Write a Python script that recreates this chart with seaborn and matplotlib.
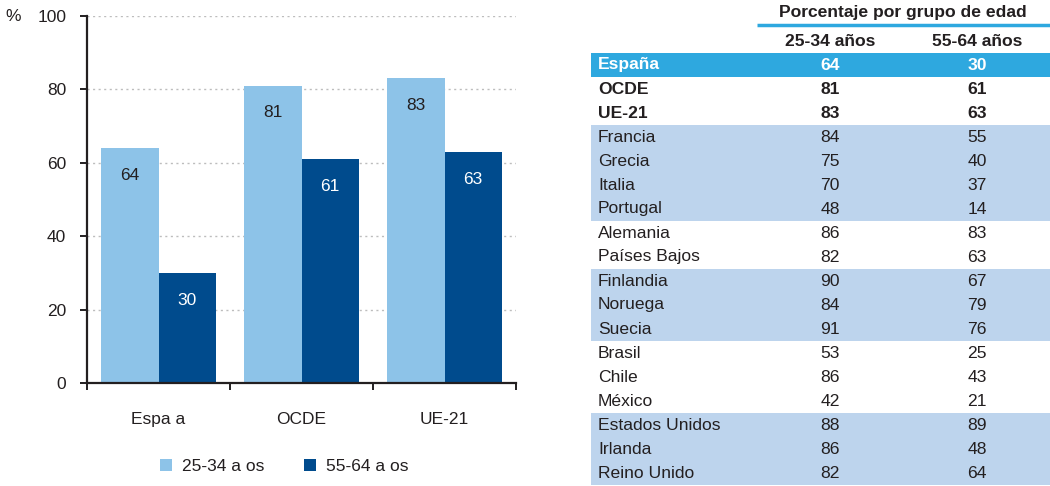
import pandas as pd
import matplotlib
matplotlib.use('Agg')
import matplotlib.pyplot as plt
import seaborn as sns
import numpy as np

# chart data
groups = ['Espa a', 'OCDE', 'UE-21']
ages = ['25-34 a os', '55-64 a os']
young = [64, 81, 83]
old = [30, 61, 63]

# table data
countries = ['España', 'OCDE', 'UE-21', 'Francia', 'Grecia', 'Italia', 'Portugal',
             'Alemania', 'Países Bajos', 'Finlandia', 'Noruega', 'Suecia',
             'Brasil', 'Chile', 'México', 'Estados Unidos', 'Irlanda', 'Reino Unido']
tab_young = [64, 81, 83, 84, 75, 70, 48, 86, 82, 90, 84, 91, 53, 86, 42, 88, 86, 82]
tab_old = [30, 61, 63, 55, 40, 37, 14, 83, 63, 67, 79, 76, 25, 43, 21, 89, 48, 64]
# row shading: 0 white, 1 light blue, 2 highlight
shade = [2, 0, 0, 1, 1, 1, 1, 0, 0, 1, 1, 1, 0, 0, 0, 1, 1, 1]
bold_rows = [0, 1, 2]

light = '#8DC3E8'
dark = '#004B8D'
txt = '#231F20'

sns.set_style('white')
plt.rcParams['font.family'] = ['Liberation Sans', 'DejaVu Sans']

df = pd.DataFrame({
    'grupo': groups * 2,
    'edad': [ages[0]] * 3 + [ages[1]] * 3,
    'valor': young + old,
})

fig = plt.figure(figsize=(10.5, 4.86), dpi=100)
ax = fig.add_axes([87/1050, 1 - 383/486, 429/1050, 367/486])
sns.barplot(data=df, x='grupo', y='valor', hue='edad', palette=[light, dark],
            width=0.8, saturation=1, linewidth=0, ax=ax)

fs_c = 12.5
ax.set_xlim(-0.5, 2.5)
ax.set_ylim(0, 100)
ax.set_yticks([0, 20, 40, 60, 80, 100])
ax.yaxis.grid(True, linestyle=(0, (1.5, 2.5)), color='#BDBDBD', linewidth=1)
ax.set_axisbelow(True)
for s in ['top', 'right']:
    ax.spines[s].set_visible(False)
for s in ['left', 'bottom']:
    ax.spines[s].set_color(txt)
    ax.spines[s].set_linewidth(1.6)
ax.tick_params(axis='y', length=5, width=1.4, color=txt, labelsize=fs_c,
               labelcolor=txt, pad=10, left=True)
ax.set_xticks([-0.5, 0.5, 1.5, 2.5], minor=True)
ax.tick_params(axis='x', which='minor', length=5, width=1.4, color=txt, bottom=True)
ax.tick_params(axis='x', which='major', length=0, labelsize=fs_c, labelcolor=txt, pad=21)
ax.set_xlabel('')
ax.set_ylabel('')
ax.text(-0.19, 1.0, '%', transform=ax.transAxes, fontsize=fs_c, color=txt,
        va='center', ha='left')

for cont, col in zip(ax.containers, [txt, 'white']):
    labels = [f'{v:.0f}' for v in cont.datavalues]
    ax.bar_label(cont, labels=labels, padding=-25, color=col, fontsize=fs_c)

sns.move_legend(ax, 'lower center', bbox_to_anchor=(0.46, -0.29), ncol=2,
                frameon=False, title=None, fontsize=fs_c, handlelength=0.65,
                handleheight=0.65, columnspacing=2.3, handletextpad=0.6)
for t in ax.get_legend().get_texts():
    t.set_color(txt)

# table
tx = fig.add_axes([591/1050, 0, 459/1050, 1])
tx.set_xlim(591, 1050)
tx.set_ylim(421/24, -65/24)
tx.axis('off')
narrow = ['Liberation Sans Narrow', 'Liberation Sans', 'DejaVu Sans']
fs = 12.6
band_cols = {0: None, 1: '#BDD4ED', 2: '#2EA8DF'}
for i, (name, a, b, s) in enumerate(zip(countries, tab_young, tab_old, shade)):
    if band_cols[s]:
        tx.axhspan(i - 0.5, i + 0.5, xmin=0, xmax=1, color=band_cols[s], lw=0)
    w = 'bold' if i in bold_rows else 'normal'
    c = 'white' if s == 2 else txt
    tx.text(598, i, name, ha='left', va='center', fontsize=fs, fontweight=w,
            color=c, family=narrow)
    tx.text(830, i, str(a), ha='center', va='center', fontsize=fs, fontweight=w,
            color=c, family=narrow)
    tx.text(977, i, str(b), ha='center', va='center', fontsize=fs, fontweight=w,
            color=c, family=narrow)

tx.text(903, -52/24, 'Porcentaje por grupo de edad', ha='center', va='center',
        fontsize=fs, fontweight='bold', color=txt, family=narrow)
tx.plot([757, 1050], [-40/24, -40/24], color='#2EA8DF', lw=2.5, solid_capstyle='butt')
tx.text(830, -23/24, '25-34 años', ha='center', va='center', fontsize=fs,
        fontweight='bold', color=txt, family=narrow)
tx.text(977, -23/24, '55-64 años', ha='center', va='center', fontsize=fs,
        fontweight='bold', color=txt, family=narrow)

fig.savefig('out.png', dpi=100)
